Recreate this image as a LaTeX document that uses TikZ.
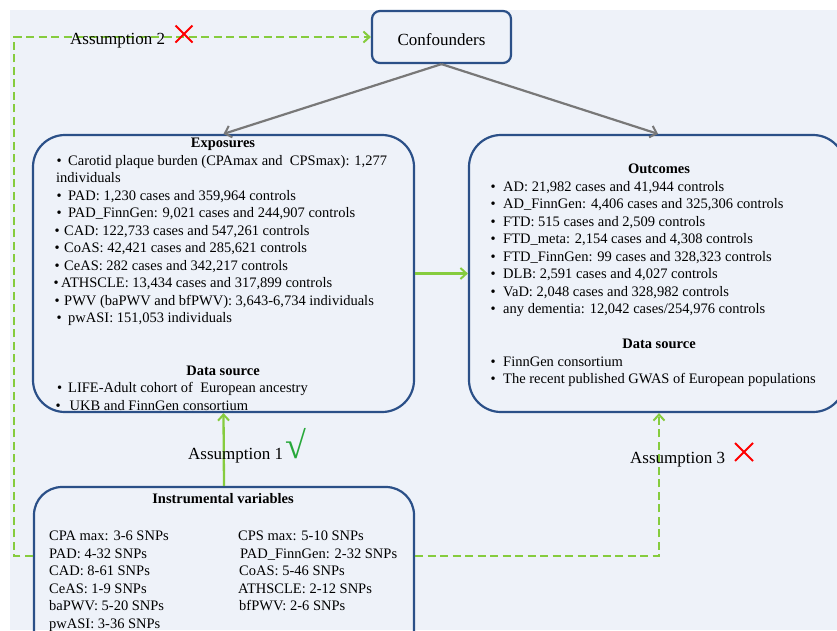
\documentclass[tikz,border=0pt]{standalone}
\usepackage{fontspec}
\setmainfont{Liberation Serif}
\usetikzlibrary{arrows.meta,calc}
\definecolor{bgc}{HTML}{EEF2F9}
\definecolor{boxc}{HTML}{2B5088}
\definecolor{grn}{HTML}{86CC3E}
\definecolor{chk}{HTML}{27A83A}
\definecolor{arrc}{HTML}{787878}
\newcommand{\fsz}{\fontsize{14.5pt}{17.5pt}\selectfont}
\newcommand{\fbig}{\fontsize{17pt}{20pt}\selectfont}
\newcommand{\bul}[1]{\makebox[#1][l]{•}}
\begin{document}
\begin{tikzpicture}[x=1pt,y=-1pt,
  box/.style={draw=boxc, line width=2.2pt, inner sep=0pt},
  ln/.style={anchor=base west, inner sep=0pt, font=\fsz},
  hd/.style={anchor=base, inner sep=0pt, font=\fsz\bfseries},
  lab/.style={anchor=base west, inner sep=0pt, font=\fbig},
  garrow/.style={draw=grn, line width=2.3pt, -{Straight Barb[length=6pt,width=11pt,line width=2pt]}},
  gdash/.style={garrow, dash pattern=on 8pt off 4.5pt},
  grarrow/.style={draw=arrc, line width=2.2pt, -{Straight Barb[length=6pt,width=12pt,line width=2pt]}},
  xmark/.style={draw=red, line width=2pt}]
\useasboundingbox (0,0) rectangle (837,630);
\fill[white] (0,0) rectangle (837,630);
\fill[bgc] (10,10) rectangle (837,630);

% boxes
\node[box, rounded corners=8pt, minimum width=139pt, minimum height=52pt, font=\fbig] (conf) at (441.5,37) {\smash{\raisebox{-8.5pt}{Confounders}}};
\node[box, rounded corners=32pt, minimum width=381pt, minimum height=277pt] (expo) at (223.5,273.5) {};
\node[box, rounded corners=32pt, minimum width=376pt, minimum height=277pt] (out) at (657,273.5) {};
\node[box, rounded corners=28pt, minimum width=380pt, minimum height=175pt] (iv) at (224,574.5) {};

% exposures text
\node[hd] (exh) at (223,147) {Exposures};
\node[ln] (e1) at (56.5,165) {\bul{11.5pt}Carotid plaque burden (CPAmax and~ CPSmax): 1,277};
\node[ln] (e1b) at (56,182.5) {individuals};
\node[ln] (e2) at (56.5,200) {\bul{11.5pt}PAD: 1,230 cases and 359,964 controls};
\node[ln] (e3) at (56.5,217.5) {\bul{11.5pt}PAD\_FinnGen: 9,021 cases and 244,907 controls};
\node[ln] (e4) at (54.5,235) {\bul{9.5pt}CAD: 122,733 cases and 547,261 controls};
\node[ln] (e5) at (54.5,252.5) {\bul{9.5pt}CoAS: 42,421 cases and 285,621 controls};
\node[ln] (e6) at (54.5,270) {\bul{9.5pt}CeAS: 282 cases and 342,217 controls};
\node[ln] (e7) at (53.5,287.5) {\bul{7.5pt}ATHSCLE: 13,434 cases and 317,899 controls};
\node[ln] (e8) at (54.5,305) {\bul{9.5pt}PWV (baPWV and bfPWV): 3,643-6,734 individuals};
\node[ln] (e9) at (56.5,322.5) {\bul{11.5pt}pwASI: 151,053 individuals};
\node[hd] (edh) at (223,375) {Data source};
\node[ln] (ed1) at (57,392.5) {\bul{11pt}LIFE-Adult cohort of~ European ancestry};
\node[ln] (ed2) at (55.5,410) {\bul{14pt}UKB and FinnGen consortium};

% outcomes text
\node[hd] (oh) at (659,173) {Outcomes};
\node[ln] (o1) at (490.5,191) {\bul{12.5pt}AD: 21,982 cases and 41,944 controls};
\node[ln] (o2) at (490.5,208.5) {\bul{12.5pt}AD\_FinnGen: 4,406 cases and 325,306 controls};
\node[ln] (o3) at (490.5,226) {\bul{12.5pt}FTD: 515 cases and 2,509 controls};
\node[ln] (o4) at (490.5,243.5) {\bul{12.5pt}FTD\_meta: 2,154 cases and 4,308 controls};
\node[ln] (o5) at (490.5,261) {\bul{12.5pt}FTD\_FinnGen: 99 cases and 328,323 controls};
\node[ln] (o6) at (490.5,278.5) {\bul{12.5pt}DLB: 2,591 cases and 4,027 controls};
\node[ln] (o7) at (490.5,296) {\bul{12.5pt}VaD: 2,048 cases and 328,982 controls};
\node[ln] (o8) at (490.5,313.5) {\bul{12.5pt}any dementia: 12,042 cases/254,976 controls};
\node[hd] (odh) at (659,348) {Data source};
\node[ln] (od1) at (490.5,366) {\bul{12.5pt}FinnGen consortium};
\node[ln] (od2) at (490.5,383.5) {\bul{12.5pt}The recent published GWAS of European populations};

% instrumental variables text
\node[hd] (ivh) at (223,503) {Instrumental variables};
\node[ln] (i1) at (49,540.5) {CPA max: 3-6 SNPs};
\node[ln] (i2) at (49,558) {PAD: 4-32 SNPs};
\node[ln] (i3) at (49,575.5) {CAD: 8-61 SNPs};
\node[ln] (i4) at (49,593) {CeAS: 1-9 SNPs};
\node[ln] (i5) at (49,610.5) {baPWV: 5-20 SNPs};
\node[ln] (i6) at (49,628) {pwASI: 3-36 SNPs};
\node[ln] (j1) at (238,540.5) {CPS max: 5-10 SNPs};
\node[ln] (j2) at (240,558) {PAD\_FinnGen: 2-32 SNPs};
\node[ln] (j3) at (239,575.5) {CoAS: 5-46 SNPs};
\node[ln] (j4) at (238,593) {ATHSCLE: 2-12 SNPs};
\node[ln] (j5) at (239,610.5) {bfPWV: 2-6 SNPs};

% connectors
\draw[grarrow] (conf.south) -- (expo.north);
\draw[grarrow] (conf.south) -- ([xshift=1pt]out.north);
\draw[garrow] (expo.east) -- (out.west);
\draw[garrow] (iv.north) -- (expo.south);
\coordinate (dl) at (14,556);
\coordinate (dr) at (659,556);
\draw[gdash] (iv.west |- dl) -- (dl) |- (conf.west);
\draw[gdash] (iv.east |- dr) -- (dr) -- (dr |- out.south);

% labels
\node[lab] (a2) at (70,44) {Assumption 2};
\node[lab] (a1) at (188,459) {Assumption 1};
\node[lab] (a3) at (630,463) {Assumption 3};
\node[inner sep=0pt, text=chk, font=\fontsize{38pt}{38pt}\selectfont] (ck) at (296,444) {√};
\draw[xmark] (175.5,25.5) -- (192.5,42.5) (175.5,42.5) -- (192.5,25.5);
\draw[xmark] (735,443) -- (753,461) (735,461) -- (753,443);
\end{tikzpicture}
\end{document}
